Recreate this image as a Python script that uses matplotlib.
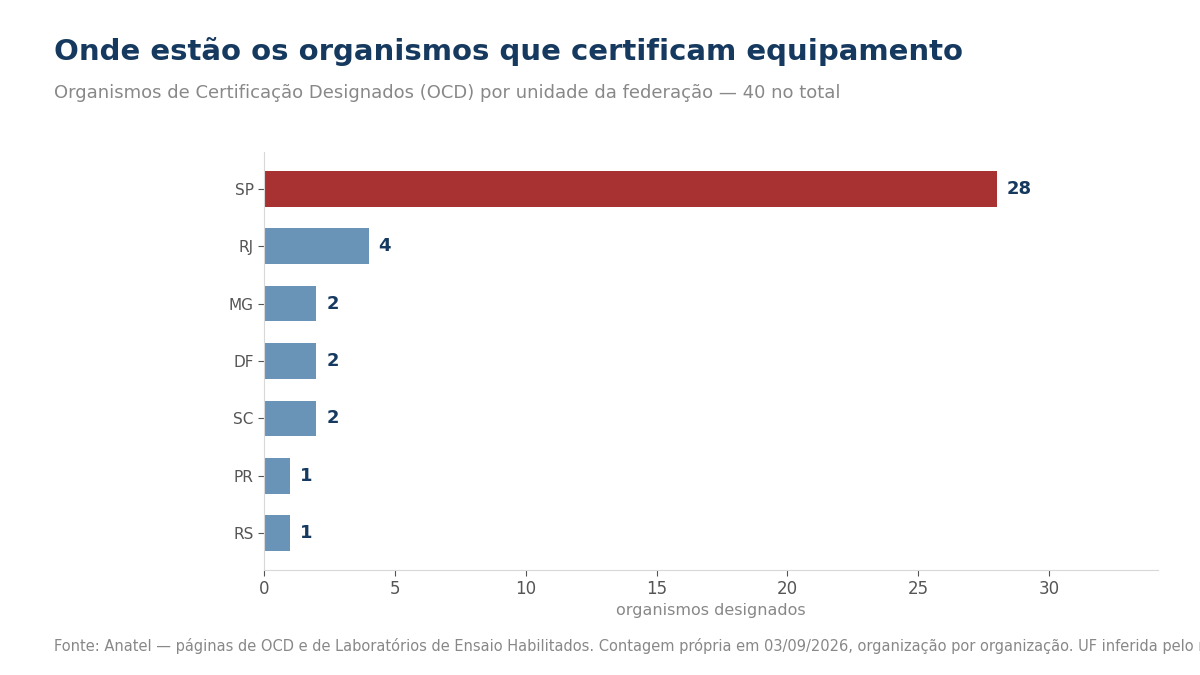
import matplotlib
matplotlib.use("Agg")
import matplotlib.pyplot as plt

ufs = ["SP", "RJ", "MG", "DF", "SC", "PR", "RS"]
counts = [28, 4, 2, 2, 2, 1, 1]
highlight = "SP"

title = "Onde estão os organismos que certificam equipamento"
subtitle = "Organismos de Certificação Designados (OCD) por unidade da federação — 40 no total"
xlabel = "organismos designados"
footer = ("Fonte: Anatel — páginas de OCD e de Laboratórios de Ensaio Habilitados. "
          "Contagem própria em 03/09/2026, organização por organização. UF inferida pelo município do endereço.")

plt.rcParams['font.family'] = ['DejaVu Sans']
fig = plt.figure(figsize=(12, 6.75), dpi=100)
ax = fig.add_axes([0.22, 0.1556, 0.745, 0.6192])

red = "#a83232"
blue = "#6a93b8"
navy = "#163a5f"
colors = [red if u == highlight else blue for u in ufs]
ypos = list(range(len(ufs)))
ax.barh(ypos, counts, height=0.62, color=colors)
ax.set_yticks(ypos)
ax.set_yticklabels(ufs)
ax.invert_yaxis()
ax.set_xlim(0, max(counts) * 1.22)

for y, v in zip(ypos, counts):
    ax.text(v + 0.38, y, str(v), va="center", ha="left", fontsize=13,
            fontweight="bold", color=navy)

for s in ["top", "right"]:
    ax.spines[s].set_visible(False)
for s in ["left", "bottom"]:
    ax.spines[s].set_color("#d8d8d8")
ax.tick_params(axis="y", colors="#555555", labelsize=11, length=4)
ax.tick_params(axis="x", colors="#555555", labelsize=12, length=4)
ax.tick_params(axis="both", color="#555555")
ax.set_xlabel(xlabel, fontsize=11.5, color="#888888", labelpad=3.5)

fig.text(0.045, 0.924, title, fontsize=21, fontweight="bold", color="#163a5f",
         ha="left", va="center")
fig.text(0.045, 0.862, subtitle, fontsize=13, color="#888888", ha="left", va="center")
fig.text(0.045, 0.043, footer, fontsize=10.5, color="#888888", ha="left", va="center")

fig.savefig("out.png", dpi=100)
